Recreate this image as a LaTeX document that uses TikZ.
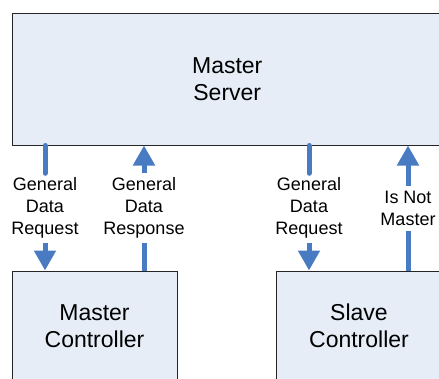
\documentclass[tikz,border=0pt]{standalone}
\usepackage{fontspec}
\setmainfont{Liberation Sans}
\usetikzlibrary{arrows.meta}
\definecolor{boxfill}{RGB}{230,237,247}
\definecolor{flowblue}{RGB}{72,123,193}
\tikzset{
  box/.style={draw=black!85, line width=1pt, fill=boxfill, align=center,
    font=\fontsize{23}{27}\selectfont, inner sep=0pt},
  lab/.style={align=center, font=\fontsize{18}{22}\selectfont, inner sep=0pt},
  flow/.style={draw=flowblue, line width=5pt},
  flowhead/.style={flow, -{Triangle[length=20pt,width=21pt]}},
}
\begin{document}
\begin{tikzpicture}[x=1pt,y=-1pt]
\useasboundingbox (0,0) rectangle (439,378);
\clip (0,0) rectangle (439,378);
% boxes
\node[box, minimum width=429.5pt, minimum height=132pt] (srv) at (227.25,79) {Master\\Server};
\node[box, minimum width=165pt, minimum height=110pt] (mc) at (94.5,326) {Master\\Controller};
\node[box, minimum width=166pt, minimum height=110pt] (sc) at (359,326) {Slave\\Controller};
% labels
\node[lab, minimum height=69pt] (l1) at (45,208) {General\\Data\\Request};
\node[lab, minimum height=69pt] (l2) at (144,208) {General\\Data\\Response};
\node[lab, minimum height=69pt] (l3) at (309,208) {General\\Data\\Request};
\node[lab, minimum height=45pt] (l4) at (408,208.5) {Is Not\\Master};
% connectors
\draw[flow, line cap=round] (l1 |- srv.south) -- (l1.north);
\draw[flowhead] (l1.south) -- (l1 |- mc.north);
\draw[flow] (l2 |- mc.north) -- (l2.south);
\draw[flowhead] (l2.north) -- (l2 |- srv.south);
\draw[flow, line cap=round] (l3 |- srv.south) -- (l3.north);
\draw[flowhead] (l3.south) -- (l3 |- sc.north);
\draw[flow] (l4 |- sc.north) -- (l4.south);
\draw[flowhead] (l4.north) -- (l4 |- srv.south);
\end{tikzpicture}
\end{document}
